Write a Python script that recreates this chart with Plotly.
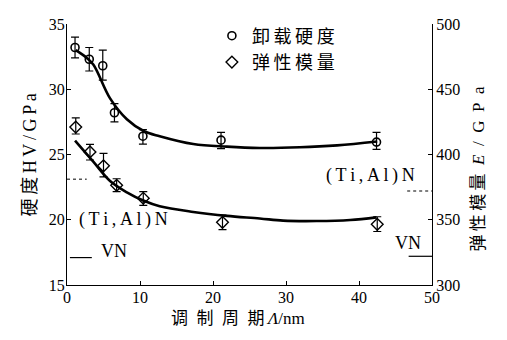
import plotly.graph_objects as go

# ---- data ----
period_hv = [1.1, 3.05, 4.9, 6.5, 10.4, 21.1, 42.4]
hardness = [33.2, 32.3, 31.8, 28.2, 26.4, 26.1, 25.95]
hardness_err_plus = [0.8, 0.9, 1.2, 0.7, 0.5, 0.6, 0.75]
hardness_err_minus = [0.8, 0.9, 1.1, 0.7, 0.6, 0.65, 0.55]

period_e = [1.2, 3.15, 5.0, 6.8, 10.45, 21.3, 42.5]
modulus = [421, 402, 391.3, 376.4, 366.5, 348, 346.5]
modulus_err_plus = [7, 5.7, 9.5, 5, 5, 5.6, 5.8]
modulus_err_minus = [5.3, 6.2, 8.4, 4.9, 5.5, 5.6, 5.5]

# fitted curves
curve_hv_x = [1.2, 2.5, 3.6, 5.9, 8.2, 10.5, 12.7, 17.3, 21.9, 26.4, 31.9, 37.0, 42.5]
curve_hv_y = [33.0, 32.5, 31.9, 29.3, 27.7, 26.8, 26.4, 25.8, 25.6, 25.5, 25.55, 25.7, 26.0]
curve_e_x = [1.1, 3.6, 5.9, 8.2, 10.45, 12.7, 17.3, 21.9, 26.4, 29.6, 34.2, 38.8, 42.4]
curve_e_y = [410.7, 394.5, 379.7, 371, 364.7, 360.3, 356, 353, 351, 349.3, 349, 349.8, 351.8]

# reference levels of the single-layer films
ref_hv_tialn = 23.1
ref_hv_vn = 17.1
ref_e_tialn = 372
ref_e_vn = 322

x_ticks = [0, 10, 20, 30, 40, 50]
hv_ticks = [15, 20, 25, 30, 35]
e_ticks = [300, 350, 400, 450, 500]

SERIF = "Liberation Serif, DejaVu Serif, serif"
CJK = "Liberation Serif, Noto Sans CJK SC, serif"

W, H = 491, 324
ML, MR, MT, MB = 59, 67, 9, 47
PW, PH = W - ML - MR, H - MT - MB

fig = go.Figure()

fig.add_trace(go.Scatter(x=curve_hv_x, y=curve_hv_y, mode="lines", line=dict(color="black", width=2.6, shape="spline"),
                         showlegend=False, hoverinfo="skip"))
fig.add_trace(go.Scatter(x=curve_e_x, y=curve_e_y, mode="lines", yaxis="y2",
                         line=dict(color="black", width=2.6, shape="spline"), showlegend=False, hoverinfo="skip"))

fig.add_trace(go.Scatter(
    x=period_hv, y=hardness, mode="markers", name="卸\u2009载\u2009硬\u2009度",
    marker=dict(symbol="circle-open", size=8, color="black", line=dict(width=1.6)),
    error_y=dict(type="data", symmetric=False, array=hardness_err_plus, arrayminus=hardness_err_minus,
                 color="black", thickness=1.2, width=4)))
fig.add_trace(go.Scatter(
    x=period_e, y=modulus, mode="markers", name="弹\u2009性\u2009模\u2009量", yaxis="y2",
    marker=dict(symbol="diamond-open", size=9, color="black", line=dict(width=1.4)),
    error_y=dict(type="data", symmetric=False, array=modulus_err_plus, arrayminus=modulus_err_minus,
                 color="black", thickness=1.2, width=4)))

# reference segments
fig.add_trace(go.Scatter(x=[0, 2.7], y=[ref_hv_tialn, ref_hv_tialn], mode="lines",
                         line=dict(color="#555", width=1.5, dash="dot"), showlegend=False, hoverinfo="skip"))
fig.add_trace(go.Scatter(x=[0.4, 3.4], y=[ref_hv_vn, ref_hv_vn], mode="lines",
                         line=dict(color="black", width=1.2), showlegend=False, hoverinfo="skip"))
fig.add_trace(go.Scatter(x=[46.6, 50], y=[ref_e_tialn, ref_e_tialn], mode="lines", yaxis="y2",
                         line=dict(color="#555", width=1.5, dash="dot"), showlegend=False, hoverinfo="skip"))
fig.add_trace(go.Scatter(x=[46.8, 50], y=[ref_e_vn, ref_e_vn], mode="lines", yaxis="y2",
                         line=dict(color="black", width=1.2), showlegend=False, hoverinfo="skip"))

axis_common = dict(showgrid=False, zeroline=False, showline=True, linecolor="black", linewidth=1.3,
                   ticks="inside", ticklen=4, tickcolor="black", tickwidth=1.2,
                   tickfont=dict(family=SERIF, size=16, color="black"))

fig.update_layout(
    width=W, height=H,
    margin=dict(l=ML, r=MR, t=MT, b=MB),
    paper_bgcolor="white", plot_bgcolor="white",
    xaxis=dict(range=[0, 50], tickvals=x_ticks, ticklabelstandoff=-2, **axis_common),
    yaxis=dict(range=[15, 35], tickvals=hv_ticks, ticklabelstandoff=-2, **axis_common),
    yaxis2=dict(range=[300, 500], tickvals=e_ticks, overlaying="y", side="right", ticklabelstandoff=0,
                **axis_common),
    legend=dict(x=0.397, y=1.025, xanchor="left", yanchor="top", bgcolor="rgba(0,0,0,0)",
                font=dict(family=CJK, size=18, color="black"), tracegroupgap=0, itemsizing="trace"),
    showlegend=True,
)

lab_font = dict(family=SERIF, size=18, color="black")
ts = "\u2009"
fig.add_annotation(text=ts.join("(Ti,Al)N"), x=1.4, y=20.0, xref="x", yref="y", xanchor="left",
                   yanchor="middle", showarrow=False, font=lab_font)
fig.add_annotation(text="VN", x=4.4, y=17.6, xref="x", yref="y", xanchor="left", yanchor="middle",
                   showarrow=False, font=lab_font)
fig.add_annotation(text=ts.join("(Ti,Al)N"), x=47.9, y=383.6, xref="x", yref="y2", xanchor="right",
                   yanchor="middle", showarrow=False, font=lab_font)
fig.add_annotation(text="VN", x=48.8, y=332.4, xref="x", yref="y2", xanchor="right", yanchor="middle",
                   showarrow=False, font=lab_font)


def px_x(v):
    return (v - ML) / PW


def px_y(v):
    return (H - MB - v) / PH


# axis titles (positions in figure pixels)
fig.add_annotation(text="硬\u2009度\u2009H\u2009V\u2009/\u2009G\u2009P\u2009a", x=px_x(10), y=px_y(144),
                   xref="paper", yref="paper", showarrow=False, textangle=-90,
                   font=dict(family=CJK, size=18, color="black"))
fig.add_annotation(text="弹\u2009性\u2009模\u2009量\u2002<i>E</i>\u2002/\u2002G\u2002P\u2002a", x=px_x(482),
                   y=px_y(158), xref="paper", yref="paper", showarrow=False, textangle=-90,
                   font=dict(family=CJK, size=17, color="black"))
fig.add_annotation(text="调\u2002制\u2002周\u2002期\u2009<i>Λ</i>/nm", x=px_x(230), y=px_y(323),
                   xref="paper", yref="paper", showarrow=False,
                   font=dict(family=CJK, size=17, color="black"))

fig.write_html("out.html")
